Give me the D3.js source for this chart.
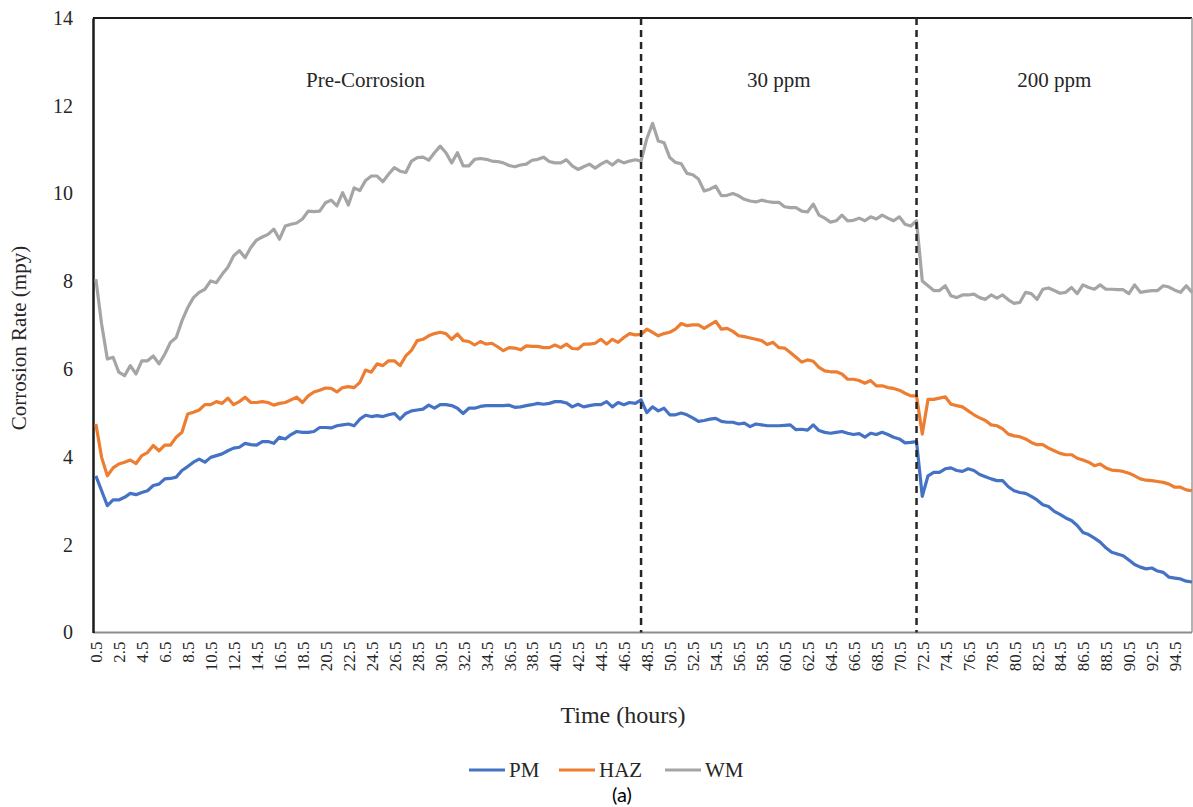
<!DOCTYPE html>
<html>
<head>
<meta charset="utf-8">
<script src="https://cdn.jsdelivr.net/npm/d3@7/dist/d3.min.js"></script>
<style>
  body { margin: 0; background: #fff; }
  svg text { font-family: "Liberation Serif", "Times New Roman", serif; fill: #262626; }
</style>
</head>
<body>
<svg id="chart" width="1193" height="807"></svg>
<script>
// Sampling times (hours), every half hour
const hours = d3.range(192).map(i => 0.5 + i * 0.5);

// Corrosion rate (mpy) for each zone
const pm = [
  3.57, 3.23, 2.89, 3.02, 3.02, 3.08, 3.17, 3.14, 3.19, 3.23,
  3.35, 3.38, 3.50, 3.51, 3.54, 3.69, 3.78, 3.88, 3.95, 3.88,
  3.99, 4.03, 4.07, 4.14, 4.20, 4.22, 4.31, 4.28, 4.27, 4.35,
  4.35, 4.31, 4.45, 4.41, 4.51, 4.58, 4.56, 4.56, 4.58, 4.67,
  4.67, 4.66, 4.71, 4.73, 4.75, 4.71, 4.86, 4.95, 4.92, 4.94,
  4.92, 4.96, 4.99, 4.86, 4.99, 5.05, 5.07, 5.09, 5.18, 5.11,
  5.19, 5.19, 5.17, 5.11, 4.99, 5.11, 5.11, 5.15, 5.17, 5.17,
  5.17, 5.17, 5.18, 5.13, 5.14, 5.17, 5.19, 5.22, 5.20, 5.22,
  5.26, 5.26, 5.23, 5.14, 5.20, 5.14, 5.17, 5.19, 5.19, 5.26,
  5.14, 5.24, 5.19, 5.24, 5.22, 5.30, 5.01, 5.14, 5.05, 5.11,
  4.96, 4.96, 5.00, 4.96, 4.89, 4.81, 4.83, 4.86, 4.88, 4.81,
  4.79, 4.79, 4.75, 4.77, 4.69, 4.75, 4.73, 4.71, 4.71, 4.71,
  4.72, 4.73, 4.62, 4.63, 4.61, 4.73, 4.60, 4.56, 4.54, 4.56,
  4.58, 4.54, 4.51, 4.53, 4.45, 4.54, 4.51, 4.56, 4.51, 4.45,
  4.41, 4.32, 4.33, 4.35, 3.10, 3.57, 3.65, 3.65, 3.73, 3.75,
  3.69, 3.67, 3.73, 3.69, 3.60, 3.55, 3.50, 3.46, 3.46, 3.32,
  3.23, 3.19, 3.17, 3.10, 3.02, 2.91, 2.87, 2.76, 2.69, 2.61,
  2.55, 2.44, 2.28, 2.23, 2.15, 2.06, 1.93, 1.83, 1.79, 1.75,
  1.65, 1.55, 1.49, 1.45, 1.47, 1.40, 1.37, 1.26, 1.24, 1.22,
  1.17, 1.15
];
const haz = [
  4.75, 3.99, 3.57, 3.75, 3.84, 3.88, 3.93, 3.85, 4.03, 4.10,
  4.26, 4.14, 4.27, 4.27, 4.45, 4.56, 4.98, 5.02, 5.07, 5.19,
  5.19, 5.26, 5.22, 5.34, 5.19, 5.26, 5.36, 5.24, 5.24, 5.26,
  5.24, 5.18, 5.22, 5.24, 5.30, 5.36, 5.24, 5.39, 5.48, 5.52,
  5.57, 5.56, 5.48, 5.58, 5.60, 5.58, 5.70, 5.98, 5.93, 6.12,
  6.08, 6.19, 6.19, 6.08, 6.30, 6.43, 6.65, 6.68, 6.76, 6.81,
  6.84, 6.81, 6.68, 6.80, 6.65, 6.63, 6.55, 6.63, 6.57, 6.59,
  6.51, 6.42, 6.49, 6.48, 6.44, 6.53, 6.52, 6.52, 6.49, 6.49,
  6.55, 6.49, 6.57, 6.47, 6.46, 6.57, 6.57, 6.59, 6.68, 6.57,
  6.68, 6.61, 6.72, 6.81, 6.78, 6.79, 6.91, 6.84, 6.76, 6.81,
  6.84, 6.91, 7.04, 6.99, 7.01, 7.01, 6.93, 7.01, 7.09, 6.91,
  6.93, 6.86, 6.76, 6.74, 6.71, 6.68, 6.65, 6.56, 6.61, 6.49,
  6.48, 6.38, 6.27, 6.16, 6.21, 6.18, 6.04, 5.96, 5.94, 5.94,
  5.89, 5.77, 5.77, 5.74, 5.68, 5.74, 5.62, 5.62, 5.58, 5.56,
  5.52, 5.45, 5.39, 5.39, 4.52, 5.31, 5.31, 5.34, 5.37, 5.20,
  5.17, 5.14, 5.05, 4.96, 4.89, 4.83, 4.73, 4.71, 4.64, 4.52,
  4.48, 4.46, 4.41, 4.33, 4.28, 4.28, 4.20, 4.14, 4.08, 4.05,
  4.05, 3.97, 3.93, 3.88, 3.80, 3.84, 3.75, 3.70, 3.69, 3.67,
  3.63, 3.57, 3.50, 3.47, 3.46, 3.44, 3.42, 3.38, 3.31, 3.31,
  3.25, 3.23
];
const wm = [
  8.05, 7.03, 6.23, 6.27, 5.93, 5.85, 6.08, 5.89, 6.19, 6.19,
  6.30, 6.12, 6.34, 6.61, 6.72, 7.10, 7.40, 7.63, 7.75, 7.82,
  8.01, 7.97, 8.16, 8.32, 8.58, 8.70, 8.54, 8.77, 8.94, 9.01,
  9.07, 9.19, 8.96, 9.26, 9.30, 9.33, 9.42, 9.60, 9.59, 9.60,
  9.79, 9.85, 9.72, 10.02, 9.74, 10.13, 10.07, 10.30, 10.40, 10.40,
  10.27, 10.44, 10.59, 10.51, 10.48, 10.74, 10.82, 10.83, 10.76, 10.93,
  11.08, 10.93, 10.70, 10.93, 10.63, 10.63, 10.78, 10.80, 10.78, 10.74,
  10.73, 10.70, 10.64, 10.61, 10.65, 10.67, 10.76, 10.78, 10.83, 10.73,
  10.70, 10.70, 10.77, 10.63, 10.55, 10.61, 10.67, 10.58, 10.67, 10.74,
  10.65, 10.76, 10.70, 10.74, 10.77, 10.74, 11.25, 11.60, 11.20, 11.16,
  10.82, 10.71, 10.68, 10.46, 10.43, 10.33, 10.06, 10.10, 10.17, 9.95,
  9.96, 10.00, 9.95, 9.87, 9.83, 9.81, 9.85, 9.82, 9.80, 9.80,
  9.70, 9.68, 9.68, 9.60, 9.58, 9.76, 9.51, 9.44, 9.35, 9.38,
  9.51, 9.38, 9.39, 9.44, 9.38, 9.47, 9.42, 9.51, 9.44, 9.38,
  9.47, 9.30, 9.26, 9.38, 8.01, 7.90, 7.79, 7.79, 7.90, 7.67,
  7.63, 7.69, 7.69, 7.71, 7.63, 7.59, 7.69, 7.62, 7.69, 7.58,
  7.50, 7.52, 7.75, 7.72, 7.59, 7.82, 7.85, 7.79, 7.73, 7.75,
  7.86, 7.72, 7.92, 7.86, 7.82, 7.92, 7.82, 7.82, 7.81, 7.81,
  7.72, 7.92, 7.75, 7.77, 7.79, 7.79, 7.90, 7.87, 7.80, 7.75,
  7.90, 7.75
];

const seriesNames = ["PM", "HAZ", "WM"];
const seriesColors = ["#4472C4", "#ED7D31", "#A5A5A5"];
const yTicks = [0, 2, 4, 6, 8, 10, 12, 14];
const xTickHours = hours.filter((h, i) => i % 4 === 0);   // 0.5, 2.5, ... 94.5
const phaseBounds = [0, 48, 72, 96];
const phaseNames = ["Pre-Corrosion", "30 ppm", "200 ppm"];

const svg = d3.select("#chart");
const plot = { left: 93, right: 1192, top: 18, bottom: 632.5 };

const x = d3.scaleLinear().domain([0.25, 96]).range([plot.left, plot.right]);
const y = d3.scaleLinear().domain([0, 14]).range([plot.bottom, plot.top]);

// Plot frame
svg.append("line").attr("x1", plot.left).attr("x2", plot.right)
  .attr("y1", plot.top).attr("y2", plot.top)
  .attr("stroke", "#1a1a1a").attr("stroke-width", 2);
svg.append("line").attr("x1", plot.right).attr("x2", plot.right)
  .attr("y1", plot.top).attr("y2", plot.bottom)
  .attr("stroke", "#9a9a9a").attr("stroke-width", 1.5);
svg.append("line").attr("x1", plot.left).attr("x2", plot.right)
  .attr("y1", plot.bottom).attr("y2", plot.bottom)
  .attr("stroke", "#8c8c8c").attr("stroke-width", 2);

// Y axis
const yAxis = svg.append("g").attr("transform", `translate(${plot.left},0)`)
  .call(d3.axisLeft(y).tickValues(yTicks).tickSize(0).tickPadding(20).tickFormat(d3.format("d")));
yAxis.select(".domain").attr("stroke", "#1a1a1a").attr("stroke-width", 2.5);
yAxis.selectAll("text").attr("font-size", 20).attr("font-family", "Liberation Serif").attr("fill", "#262626");

// X axis labels (rotated)
const xAxis = svg.append("g").attr("transform", `translate(0,${plot.bottom})`)
  .call(d3.axisBottom(x).tickValues(xTickHours).tickSize(0).tickFormat(d3.format(".1f")));
xAxis.select(".domain").remove();
xAxis.selectAll("text")
  .attr("font-size", 17).attr("font-family", "Liberation Serif").attr("fill", "#262626")
  .attr("text-anchor", "end")
  .attr("transform", "rotate(-90)")
  .attr("x", -9).attr("y", 0).attr("dy", "0.35em");

// Series lines
const series = [pm, haz, wm];
const line = d3.line().x((d, i) => x(hours[i])).y(d => y(d));
series.forEach((vals, k) => {
  svg.append("path").datum(vals)
    .attr("fill", "none")
    .attr("stroke", seriesColors[k])
    .attr("stroke-width", 3.2)
    .attr("stroke-linejoin", "round")
    .attr("d", line);
});

// Phase boundaries and labels
phaseBounds.slice(1, -1).forEach(h => {
  svg.append("line")
    .attr("x1", x(h)).attr("x2", x(h))
    .attr("y1", plot.top).attr("y2", plot.bottom)
    .attr("stroke", "#262626").attr("stroke-width", 2.5)
    .attr("stroke-dasharray", "7,5");
});
phaseNames.forEach((name, k) => {
  svg.append("text")
    .attr("x", x((phaseBounds[k] + phaseBounds[k + 1]) / 2))
    .attr("y", 87)
    .attr("text-anchor", "middle")
    .attr("font-size", 21)
    .text(name);
});

// Axis titles
svg.append("text")
  .attr("transform", "translate(26,338) rotate(-90)")
  .attr("text-anchor", "middle")
  .attr("font-size", 21)
  .text("Corrosion Rate (mpy)");
svg.append("text")
  .attr("x", 623).attr("y", 723)
  .attr("text-anchor", "middle")
  .attr("font-size", 24)
  .text("Time (hours)");

// Legend
const legendX = [469, 559, 665];
seriesNames.forEach((name, k) => {
  const g = svg.append("g").attr("transform", `translate(${legendX[k]},770)`);
  g.append("line").attr("x1", 0).attr("x2", 36).attr("y1", 0).attr("y2", 0)
    .attr("stroke", seriesColors[k]).attr("stroke-width", 3.2);
  g.append("text").attr("x", 40).attr("y", 0).attr("dy", "0.35em")
    .attr("font-size", 21).text(name);
});

// Panel tag
svg.append("text")
  .attr("x", 622).attr("y", 802)
  .attr("text-anchor", "middle")
  .attr("font-size", 20)
  .style("font-family", "Lato, 'Open Sans', sans-serif")
  .style("fill", "#000")
  .text("(a)");
</script>
</body>
</html>
